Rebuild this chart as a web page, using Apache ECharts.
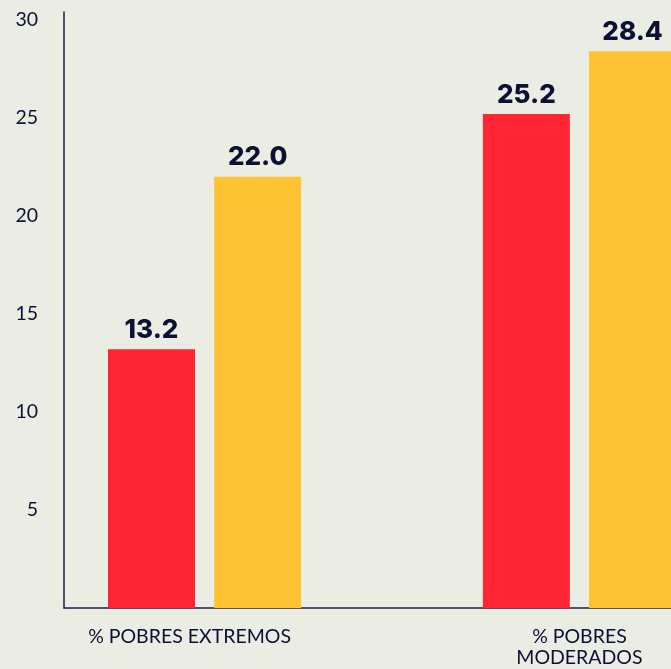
<!DOCTYPE html>
<html>
<head>
<meta charset="utf-8">
<script src="https://cdn.jsdelivr.net/npm/echarts@6/dist/echarts.min.js"></script>
<style>
html,body{margin:0;padding:0;background:#EBEDE4;}
#c{width:671px;height:669px;}
</style>
</head>
<body>
<div id="c"></div>
<script>
// Categories (empty entries are spacing slots)
var categories = ['', '% POBRES EXTREMOS', '', '', '', '% POBRES\nMODERADOS', ''];
var serieA = [null, 13.2, null, null, null, 25.2, null];
var serieB = [null, 22.0, null, null, null, 28.4, null];
var yTicks = [5, 10, 15, 20, 25, 30];

var navy = '#0C1133';
var chart = echarts.init(document.getElementById('c'));
var labelStyle = {
  show: true, position: 'top', distance: 6,
  color: navy, fontFamily: 'Inter', fontWeight: 800, fontSize: 26,
  formatter: function(p){ return p.value == null ? '' : p.value.toFixed(1); }
};
chart.setOption({
  backgroundColor: '#EBEDE4',
  animation: false,
  grid: {left: 64, top: 12, bottom: 61, width: 656, containLabel: false, outerBoundsMode: 'none'},
  xAxis: {
    type: 'category',
    data: categories,
    axisLine: {lineStyle: {color: '#1B1F45', width: 1.5}},
    axisTick: {show: false},
    axisLabel: {
      interval: 0, margin: 18, color: navy, fontFamily: 'Lato', fontSize: 19.5, lineHeight: 21,
      formatter: function(v){ return v === categories[1] ? '{s|' + v + '}' : v; },
      rich: {s: {fontFamily: 'Lato', fontSize: 19.5, color: navy, padding: [0, 30, 0, 0]}}
    }
  },
  yAxis: {
    type: 'value', min: 0, max: 30.4, interval: 5,
    axisLine: {show: true, lineStyle: {color: '#1B1F45', width: 1.5}},
    axisTick: {show: false},
    splitLine: {show: false},
    axisLabel: {
      showMinLabel: false, showMaxLabel: false, margin: 26,
      color: navy, fontFamily: 'Lato', fontSize: 19.5,
      formatter: function(v){ return yTicks.indexOf(v) >= 0 ? String(v) : ''; }
    }
  },
  series: [
    {type: 'bar', data: serieA, barWidth: 87, barGap: '22%', itemStyle: {color: '#FF2533'}, label: labelStyle},
    {type: 'bar', data: serieB, barWidth: 87, barGap: '22%', itemStyle: {color: '#FFC233'}, label: labelStyle}
  ]
});
</script>
</body>
</html>
